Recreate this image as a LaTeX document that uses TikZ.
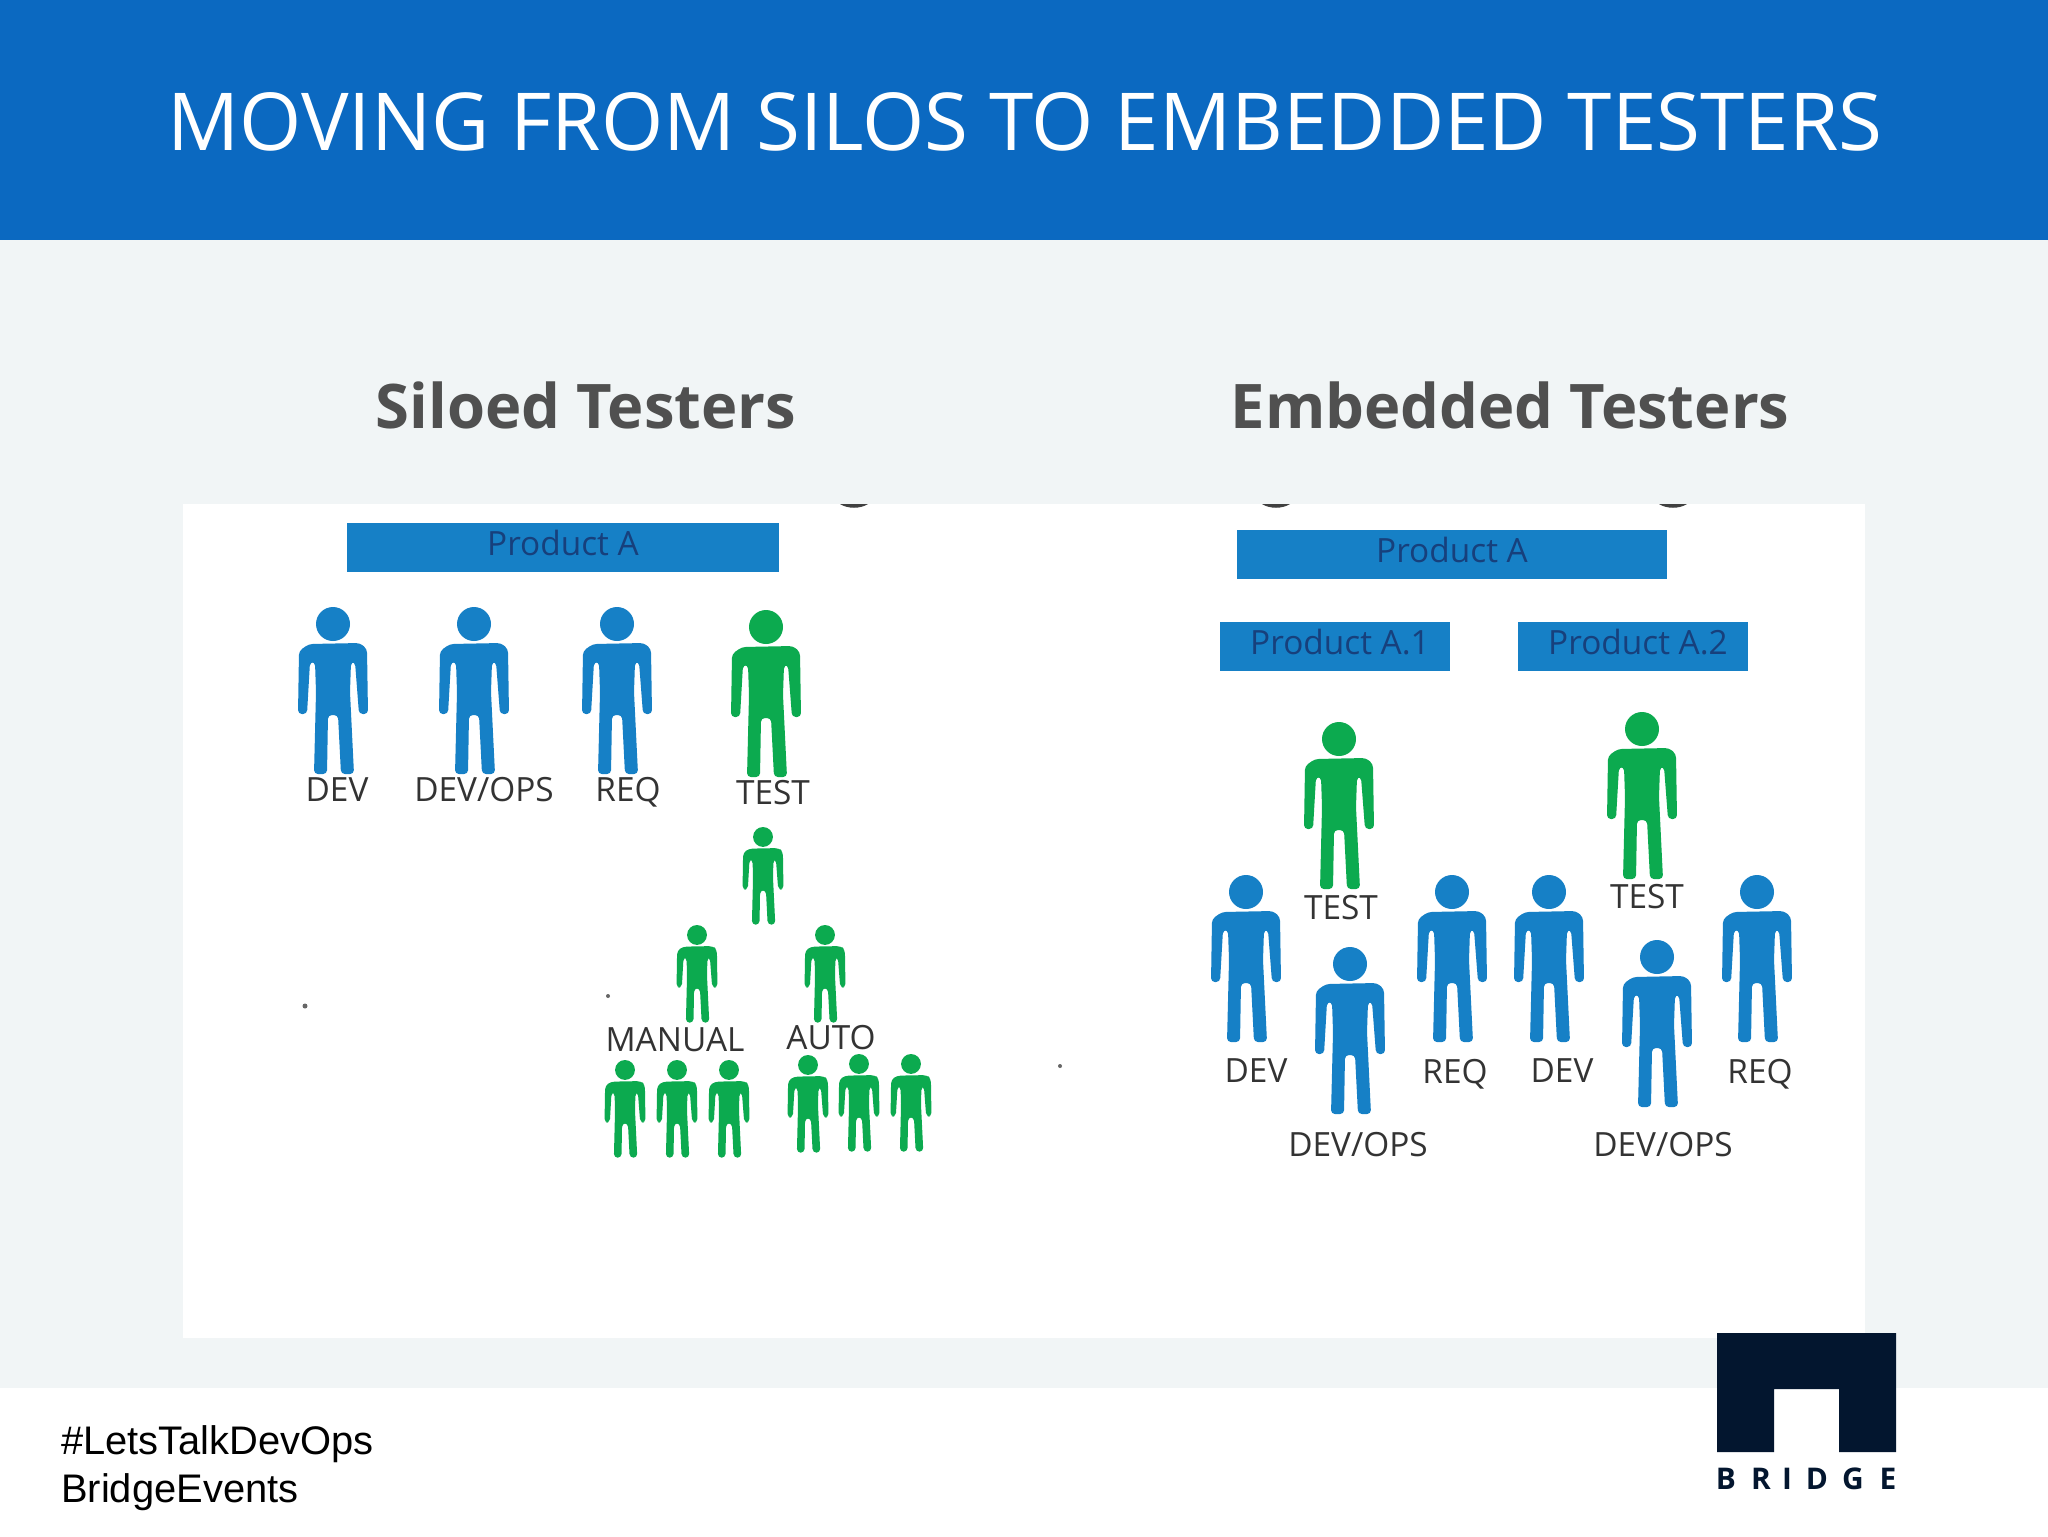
\documentclass[tikz,border=0pt]{standalone}
\usepackage{fontspec}
\setmainfont{Open Sans}
\newfontfamily\arialfont{Liberation Sans}
\usetikzlibrary{positioning}
\definecolor{bannerblue}{HTML}{0B69C1}
\definecolor{slidebg}{HTML}{F1F5F6}
\definecolor{manblue}{HTML}{1680C6}
\definecolor{mangreen}{HTML}{0CAA4F}
\definecolor{logonavy}{HTML}{03162F}
\definecolor{headgrey}{HTML}{505050}
\definecolor{prodtext}{HTML}{17407C}

\begin{document}
\begin{tikzpicture}[
  x=0.02cm, y=-0.02cm,
  title/.style={font=\fontsize{45.5}{50}\selectfont, text=white},
  head/.style={font=\fontsize{35}{38}\selectfont\bfseries, text=headgrey},
  lbl/.style={font=\fontsize{19}{22}\selectfont, text=black!80, text height=.72em, text depth=0pt, yshift=-.1cm},
  prodbox/.style={fill=manblue, inner sep=0pt, minimum height=.98cm},
  prod/.style={text=prodtext, font=\fontsize{19}{22}\selectfont, inner sep=0pt},
  tag/.style={font=\arialfont\fontsize{22.7}{26}\selectfont, text=black, anchor=west},
  logolet/.style={font=\fontsize{17}{20}\selectfont\bfseries, text=logonavy, inner sep=0pt},
  bl/.style={fill=manblue},
  gr/.style={fill=mangreen},
  sm/.style={scale=.585},
  person/.pic={
    \path[pic actions] (0,17) circle[radius=17];
    \path[pic actions, rounded corners=2.2pt] (-24,37) -- (27,36) -- (34,42) -- (35,107) -- (26,107)
      -- (22,55) -- (18,55) -- (17,85) -- (21,167) -- (8,167) -- (5,108) -- (-5,108) -- (-6,167)
      -- (-19,167) -- (-17,85) -- (-18,55) -- (-23,55) -- (-26,107) -- (-35,107) -- (-34,44) -- cycle;
  },
]
\useasboundingbox (0,0) rectangle (2048,1536);
% slide background
\fill[white] (0,0) rectangle (2048,1536);
\fill[slidebg] (0,240) rectangle (2048,1388);
\fill[bannerblue] (0,0) rectangle (2048,240);
\fill[white] (183,504) rectangle (1865,1338);
\fill[black!75] (840,504) .. controls (848,509) and (860,509) .. (868,504) -- cycle;
\fill[black!75] (1262,504) .. controls (1270,509) and (1282,509) .. (1290,504) -- cycle;
\fill[black!75] (1659,504) .. controls (1667,509) and (1679,509) .. (1687,504) -- cycle;
\fill[black!60] (305,1006) circle[radius=2.5];
\fill[black!60] (608,996) circle[radius=2];
\fill[black!60] (1060,1066) circle[radius=2];

\node[title] (ttl) at (1025,122) {MOVING FROM SILOS TO EMBEDDED TESTERS};
\node[head] (siloed) at (586,405) {Siloed Testers};
\node[head] (embedded) at (1510,405) {Embedded Testers};

% left panel
\node[prodbox, minimum width=8.64cm] (prodL) at (563,547) {};
\node[prod] (txtL) at (563,543) {Product A};
\pic[bl] (ldev) at (333,607) {person};
\pic[bl] (lops) at (474,607) {person};
\pic[bl] (lreq) at (617,607) {person};
\pic[gr] (ltest) at (766,610) {person};
\node[lbl] (tdev) at (337,790) {DEV};
\node[lbl] (tops) at (484,790) {DEV/OPS};
\node[lbl] (treq) at (628,790) {REQ};
\node[lbl] (ttest) at (773,793) {TEST};
\pic[gr, sm] (s0) at (763,827) {person};
\pic[gr, sm] (s1) at (697,925) {person};
\pic[gr, sm] (s2) at (825,925) {person};
\node[lbl] (tman) at (675,1040) {MANUAL};
\node[lbl] (taut) at (831,1038) {AUTO};
\pic[gr, sm] (m1) at (625,1060) {person};
\pic[gr, sm] (m2) at (677,1060) {person};
\pic[gr, sm] (m3) at (729,1060) {person};
\pic[gr, sm] (a1) at (808,1055) {person};
\pic[gr, sm] (a2) at (859,1054) {person};
\pic[gr, sm] (a3) at (911,1054) {person};

% right panel
\node[prodbox, minimum width=8.62cm] (prodR) at (1452,554) {};
\node[prod] (txtR) at (1452,550) {Product A};
\node[prodbox, minimum width=4.6cm] (prodA) at (1335,646) {};
\node[prod] (txtA) at (1340,642) {Product A.1};
\node[prodbox, minimum width=4.6cm] (prodB) at (1633,646) {};
\node[prod] (txtB) at (1638,642) {Product A.2};
\pic[gr] (rt1) at (1339,722) {person};
\pic[gr] (rt2) at (1642,712) {person};
\pic[bl] (rd1) at (1246,875) {person};
\pic[bl] (ro1) at (1350,947) {person};
\pic[bl] (rr1) at (1452,875) {person};
\pic[bl] (rd2) at (1549,875) {person};
\pic[bl] (ro2) at (1657,940) {person};
\pic[bl] (rr2) at (1757,875) {person};
\node[lbl] (ut1) at (1341,908) {TEST};
\node[lbl] (ut2) at (1647,897) {TEST};
\node[lbl] (ud1) at (1256,1071) {DEV};
\node[lbl] (uo1) at (1358,1145) {DEV/OPS};
\node[lbl] (ur1) at (1455,1072) {REQ};
\node[lbl] (ud2) at (1562,1071) {DEV};
\node[lbl] (uo2) at (1663,1145) {DEV/OPS};
\node[lbl] (ur2) at (1760,1072) {REQ};

% footer
\node[tag] (tag1) at (55,1444) {\#LetsTalkDevOps};
\node[tag] (tag2) at (55,1492) {BridgeEvents};
\fill[logonavy] (1717,1333) -- (1896,1333) -- (1896,1452) -- (1839,1452) -- (1839,1389)
  -- (1774,1389) -- (1774,1452) -- (1717,1452) -- cycle;
\node[logolet] (b1) at (1726,1479) {B};
\node[logolet] (b2) at (1761,1479) {R};
\node[logolet] (b3) at (1787,1479) {I};
\node[logolet] (b4) at (1817,1479) {D};
\node[logolet] (b5) at (1853,1479) {G};
\node[logolet] (b6) at (1888,1479) {E};
\end{tikzpicture}
\end{document}
